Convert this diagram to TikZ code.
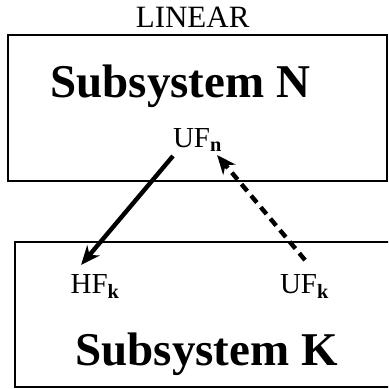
\documentclass[tikz,border=0pt]{standalone}
\usepackage{fontspec}
\setmainfont{Liberation Serif}
\usetikzlibrary{arrows.meta}
\begin{document}
\begin{tikzpicture}[
  sysbox/.style={draw, line width=1.6pt},
  sysname/.style={font=\fontsize{47}{50}\selectfont\bfseries, inner sep=0pt, anchor=base},
  portlabel/.style={font=\fontsize{29}{32}\selectfont, inner sep=0pt, anchor=base},
  flow/.style={line width=4.4pt, -{Stealth[length=19pt, width=16pt, inset=6pt]}},
  backflow/.style={flow, dash pattern=on 9pt off 6pt}
]
\useasboundingbox (0,0) rectangle (13.64,13.67);
\clip (0,0) rectangle (13.64,13.67);
\node[font=\fontsize{31}{34}\selectfont, inner sep=0pt, anchor=base] (mode) at (6.77,12.72) {LINEAR};
\draw[sysbox] (0.28,7.31) rectangle (13.60,12.44);
\draw[sysbox] (0.53,0.07) rectangle (14.2,5.17);
\node[sysname] (subN) at (6.34,10.26) {Subsystem N};
\node[sysname] (subK) at (7.26,0.84) {Subsystem K};
\node[portlabel] (ufn) at (6.94,8.47) {UF\textsubscript{\textbf{n}}};
\node[portlabel] (hfk) at (3.34,3.37) {HF\textsubscript{\textbf{k}}};
\node[portlabel] (ufk) at (10.70,3.37) {UF\textsubscript{\textbf{k}}};
\draw[flow] ([shift={(-0.86,-0.28)}]ufn.base) -- ([shift={(-0.49,0.99)}]hfk.base);
\draw[backflow] ([shift={(0.02,1.16)}]ufk.base) -- ([shift={(0.69,-0.25)}]ufn.base);
\end{tikzpicture}
\end{document}
